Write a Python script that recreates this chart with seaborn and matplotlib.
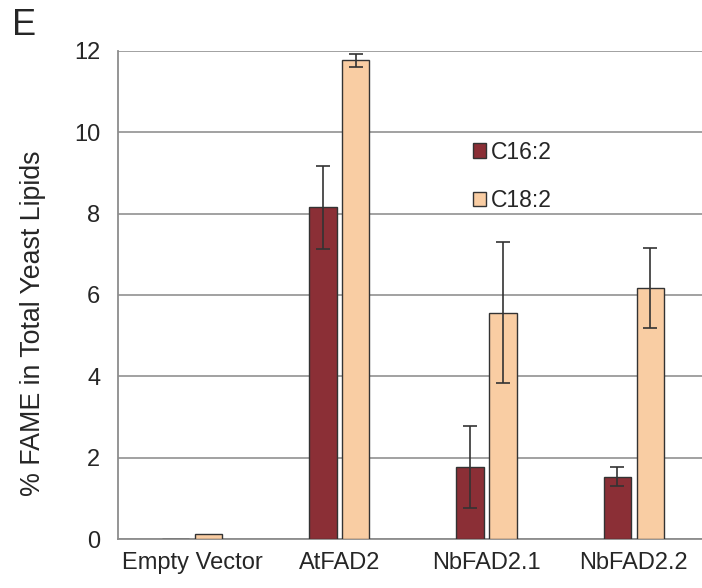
import matplotlib
matplotlib.use("Agg")
import matplotlib.pyplot as plt
from matplotlib.ticker import FixedLocator
from matplotlib.patches import Patch
import seaborn as sns
import pandas as pd

# Fatty acid composition of yeast expressing FAD2 desaturases
constructs = ["Empty Vector", "AtFAD2", "NbFAD2.1", "NbFAD2.2"]
fatty_acids = ["C16:2", "C18:2"]
c16_mean = [0.0, 8.15, 1.78, 1.54]
c16_err = [0.0, 1.03, 1.01, 0.24]
c18_mean = [0.12, 11.77, 5.57, 6.17]
c18_err = [0.0, 0.16, 1.74, 0.98]
colors = ["#8B2F36", "#F9CDA3"]
yticks = [0, 2, 4, 6, 8, 10, 12]

df = pd.DataFrame({
    "construct": constructs * 2,
    "fa": [fatty_acids[0]] * 4 + [fatty_acids[1]] * 4,
    "value": c16_mean + c18_mean,
})
errs = {fatty_acids[0]: c16_err, fatty_acids[1]: c18_err}

sns.set_style("white")
plt.rcParams["font.family"] = ["Liberation Sans", "DejaVu Sans"]

fig = plt.figure(figsize=(7.02, 5.88), dpi=100)
ax = fig.add_axes([0.1685, 0.0828, 0.8315, 0.8310])

sns.barplot(data=df, x="construct", y="value", hue="fa", order=constructs,
            hue_order=fatty_acids, palette=colors, width=0.448, gap=0.165,
            errorbar=None, edgecolor="#333333", linewidth=1.0, saturation=1,
            legend=False, ax=ax, zorder=3)

# Error bars centred on each bar
for cont, fa in zip(ax.containers, fatty_acids):
    for bar, e, val in zip(cont.patches, errs[fa], df.loc[df.fa == fa, "value"]):
        if e > 0:
            xc = bar.get_x() + bar.get_width() / 2
            ax.errorbar(xc, val, yerr=e, fmt="none", ecolor="#333333",
                        elinewidth=1.2, capsize=5, capthick=1.2, zorder=4)

ax.set_xlim(-0.5, 3.463)
ax.set_ylim(0, 12)
ax.yaxis.set_major_locator(FixedLocator(yticks))
ax.set_yticklabels([str(t) for t in yticks], fontsize=17)
ax.tick_params(axis="x", which="major", length=0, labelsize=17, pad=9)
ax.xaxis.set_minor_locator(FixedLocator([-0.5, 0.5, 1.5, 2.5]))
ax.tick_params(axis="x", which="minor", length=6, width=1.2, color="#8c8c8c",
               direction="out")
ax.tick_params(axis="y", length=7, width=1.2, color="#8c8c8c", direction="out",
               pad=6)
ax.grid(axis="y", color="#9a9a9a", linewidth=1.3, zorder=0)
ax.set_axisbelow(True)
for side in ["top", "right"]:
    ax.spines[side].set_visible(False)
for side in ["left", "bottom"]:
    ax.spines[side].set_color("#8c8c8c")
    ax.spines[side].set_linewidth(1.3)

ax.set_xlabel("")
ax.set_ylabel("% FAME in Total Yeast Lipids", fontsize=19.3)
ax.yaxis.set_label_coords(-0.124, 0.442)

handles = [Patch(facecolor=c, edgecolor="#333333", linewidth=1.0) for c in colors]
fig.legend(handles, fatty_acids, loc="center left",
           bbox_to_anchor=(0.657, 0.70), frameon=False, fontsize=16.5,
           handlelength=0.6, handleheight=0.6, handletextpad=0.2,
           labelspacing=1.1, borderpad=0)

fig.text(0.017, 0.94, "E", fontsize=26, ha="left", va="baseline")

fig.savefig("out.png", dpi=100)
